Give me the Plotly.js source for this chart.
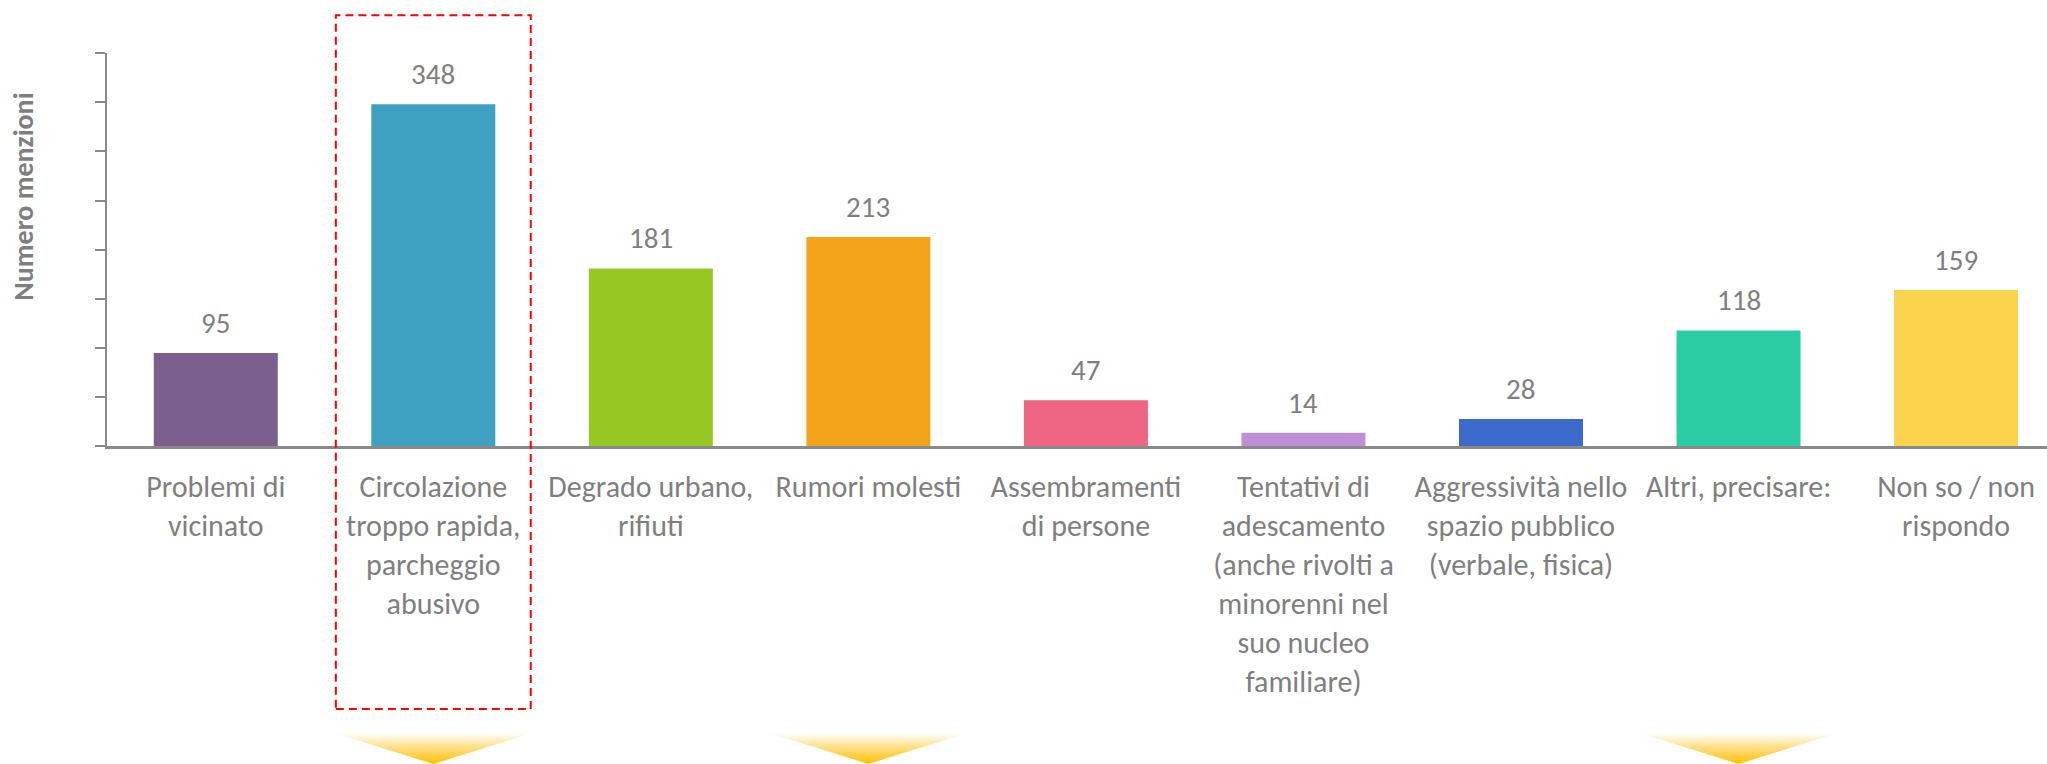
<!DOCTYPE html>
<html>
<head>
<meta charset="utf-8">
<script src="https://cdn.plot.ly/plotly-3.0.1.min.js"></script>
<style>
  html, body { margin: 0; padding: 0; background: #ffffff; }
  #chart { width: 2047px; height: 764px; }
</style>
</head>
<body>
<div id="chart"></div>
<script>
// ---- data ----
const categories = [
  "Problemi di vicinato",
  "Circolazione troppo rapida, parcheggio abusivo",
  "Degrado urbano, rifiuti",
  "Rumori molesti",
  "Assembramenti di persone",
  "Tentativi di adescamento (anche rivolti a minorenni nel suo nucleo familiare)",
  "Aggressività nello spazio pubblico (verbale, fisica)",
  "Altri, precisare:",
  "Non so / non rispondo"
];
const tickLabels = [
  "Problemi di<br>vicinato",
  "Circolazione<br>troppo rapida,<br>parcheggio<br>abusivo",
  "Degrado urbano,<br>rifiuti",
  "Rumori molesti",
  "Assembramenti<br>di persone",
  "Tentativi di<br>adescamento<br>(anche rivolti a<br>minorenni nel<br>suo nucleo<br>familiare)",
  "Aggressività nello<br>spazio pubblico<br>(verbale, fisica)",
  "Altri, precisare:",
  "Non so / non<br>rispondo"
];
const values = [95, 348, 181, 213, 47, 14, 28, 118, 159];
const barColors = ["#7B5F8E", "#3FA1C1", "#97C723", "#F4A41B", "#EF6584",
                   "#BE8ED8", "#3D6BCB", "#2CCDA5", "#FBD34C"];
const highlightIndex = 1;          // dashed red box
const arrowIndices = [1, 3, 7];    // yellow chevrons below
const yTitle = "Numero menzioni";

// ---- styling ----
const FONT = "Carlito, Calibri, Lato, sans-serif";
const GREY = "#7F7F7F";
const AXIS_GREY = "#898989";
const xRange = [-0.5, 8.418];

const traces = [{
  type: "bar",
  x: categories,
  y: values,
  marker: { color: barColors },
  width: 0.57,
  hoverinfo: "skip",
  showlegend: false
}];

// gradient chevrons
arrowIndices.forEach(i => {
  traces.push({
    type: "scatter",
    xaxis: "x2", yaxis: "y2",
    x: [i - 0.455, i + 0.455, i, i - 0.455],
    y: [1, 1, 0, 1],
    mode: "lines",
    line: { width: 0, color: "rgba(0,0,0,0)" },
    fill: "toself",
    fillcolor: "#FFD966",
    fillgradient: {
      type: "vertical",
      colorscale: [[0, "#FFC000"], [0.55, "#FFE08A"], [1, "#FFFFFF"]]
    },
    hoverinfo: "skip",
    showlegend: false
  });
});

const annotations = values.map((v, i) => ({
  x: categories[i], y: v, xref: "x", yref: "y",
  text: String(v), showarrow: false,
  yshift: 30, yanchor: "middle",
  font: { family: FONT, size: 29, color: GREY }
}));
annotations.push({
  x: -0.043, y: 0.742, xref: "paper", yref: "paper",
  text: "<b>" + yTitle + "</b>", textangle: -90, showarrow: false,
  xanchor: "center", yanchor: "middle",
  font: { family: FONT, size: 28, color: GREY }
});

const layout = {
  width: 2047, height: 764,
  margin: { l: 107, r: 0, t: 0, b: 0, pad: 0 },
  paper_bgcolor: "#ffffff", plot_bgcolor: "#ffffff",
  font: { family: FONT, color: GREY },
  bargap: 0.43,
  xaxis: {
    type: "category",
    range: xRange,
    domain: [0, 1],
    tickmode: "array",
    tickvals: categories,
    ticktext: tickLabels,
    tickfont: { family: FONT, size: 30, color: GREY },
    showline: true, linecolor: AXIS_GREY, linewidth: 3,
    ticks: "", showgrid: false, zeroline: false,
    ticklabelstandoff: 12,
    fixedrange: true
  },
  yaxis: {
    domain: [0.4156, 0.9306],
    range: [0, 400],
    dtick: 50, tick0: 0,
    showticklabels: false,
    ticks: "outside", ticklen: 10, tickwidth: 2, tickcolor: AXIS_GREY,
    showline: true, linecolor: AXIS_GREY, linewidth: 2,
    showgrid: false, zeroline: false,
    fixedrange: true
  },
  xaxis2: {
    type: "linear", range: xRange, anchor: "y2", domain: [0, 1],
    visible: false, showgrid: false, zeroline: false, fixedrange: true
  },
  yaxis2: {
    domain: [0, 0.0406], range: [0, 1], anchor: "x2",
    visible: false, showgrid: false, zeroline: false, fixedrange: true
  },
  annotations: annotations,
  shapes: [{
    type: "rect", xref: "x", yref: "paper",
    x0: highlightIndex - 0.448, x1: highlightIndex + 0.448,
    y0: 0.072, y1: 0.980,
    line: { color: "#FF0000", width: 2, dash: "8px,5px" },
    fillcolor: "rgba(0,0,0,0)", layer: "above"
  }]
};

Plotly.newPlot("chart", traces, layout, { displayModeBar: false, staticPlot: true });
</script>
</body>
</html>
